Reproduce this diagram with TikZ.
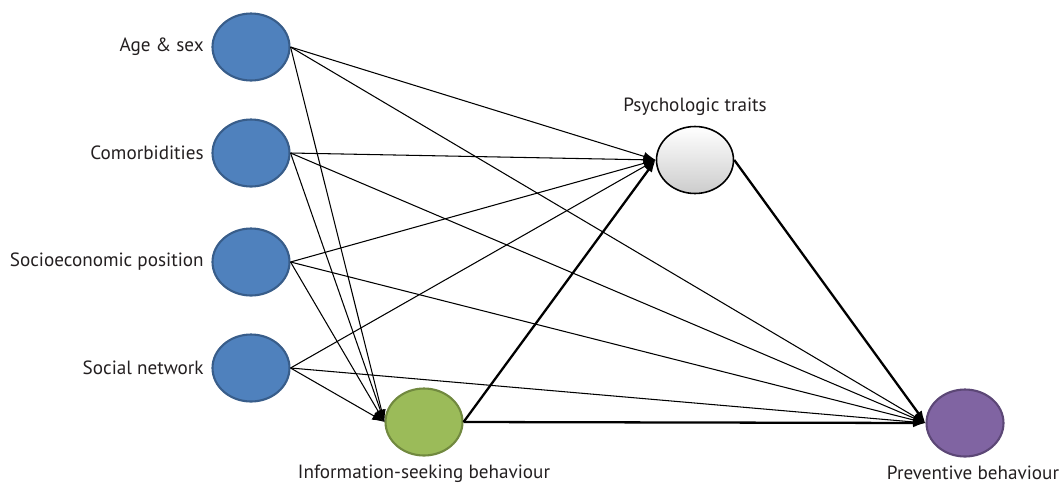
\documentclass[tikz,border=0pt]{standalone}
\usepackage{fontspec}
\setmainfont{PT Sans}
\usepackage{tikz}
\usetikzlibrary{positioning,arrows.meta,shapes.geometric}
\definecolor{causeblue}{HTML}{4F81BD}
\definecolor{causeedge}{HTML}{385D8A}
\definecolor{infogreen}{HTML}{9BBB59}
\definecolor{infoedge}{HTML}{71893F}
\definecolor{prevpurple}{HTML}{8064A2}
\definecolor{prevedge}{HTML}{5C4776}
\definecolor{txtgrey}{HTML}{231F20}
\tikzset{
  blob/.style={ellipse, line width=1.2pt, minimum width=1.54cm, minimum height=1.34cm, inner sep=0pt},
  cause/.style={blob, draw=causeedge, fill=causeblue},
  lbl/.style={font=\fontsize{10.9}{12}\selectfont, text=txtgrey, inner sep=0pt},
  link/.style={-{Latex[length=7pt,width=5pt]}, line width=0.6pt},
  mainlink/.style={-{Latex[length=7pt,width=5pt]}, line width=1.3pt}
}

\begin{document}
\begin{tikzpicture}[x=0.02cm, y=-0.02cm]
\useasboundingbox (0,0) rectangle (1062,491);
\foreach \nm/\yy/\lab in {age/47/Age \& sex, como/153/Comorbidities, ses/262/Socioeconomic position, net/368/Social network} {
  \node[cause] (\nm) at (251,\yy) {};
  \node[lbl, anchor=east] (\nm-l) at (204,\yy) {\lab};
}
\node[blob, draw=black, line width=0.9pt, top color=white, bottom color=black!20] (psy) at (695,160) {};
\node[blob, draw=infoedge, fill=infogreen] (info) at (424,422) {};
\node[blob, draw=prevedge, fill=prevpurple] (prev) at (965,423) {};
\node[lbl] (psy-l) at (695,107) {Psychologic traits};
\node[lbl] (info-l) at (424,474) {Information-seeking behaviour};
\node[lbl] (prev-l) at (973,473) {Preventive behaviour};
% paths from the background factors
\foreach \nm in {age,como,ses,net} {
  \draw[link] (\nm.east) -- (psy.west);
  \draw[link] (\nm.east) -- (info.west);
  \draw[link] (\nm.east) -- (prev.west);
}
\draw[mainlink] (info.east) -- (psy.west);
\draw[mainlink] (info.east) -- (prev.west);
\draw[mainlink] (psy.east) -- (prev.west);
\end{tikzpicture}
\end{document}
